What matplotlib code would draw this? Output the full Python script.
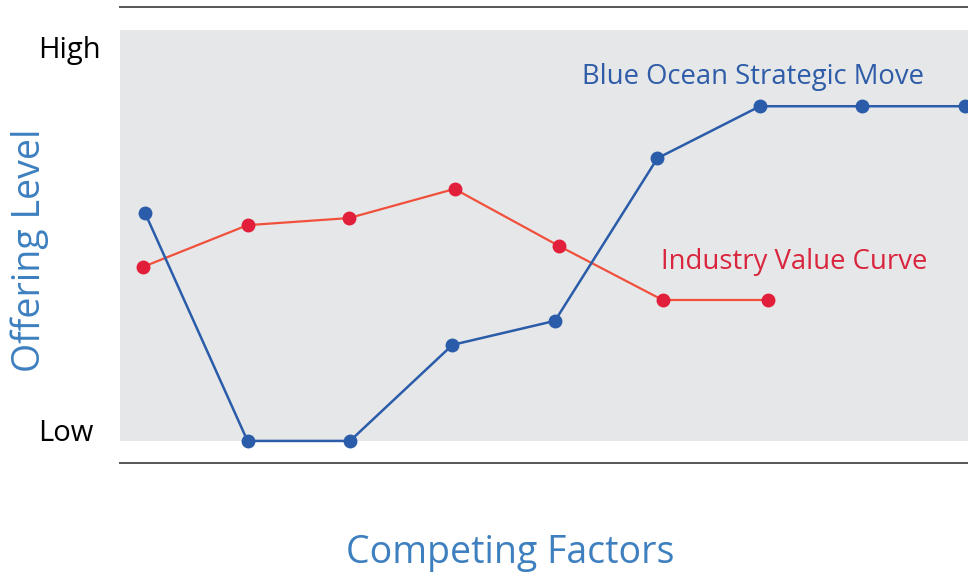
import matplotlib.pyplot as plt

# factor positions (index units) and offering levels (0 = Low, 10 = High)
blue_x = [0, 1, 2, 3, 4, 5, 6, 7, 8]
blue_y = [5.79, 0.0, 0.0, 2.44, 3.05, 7.18, 8.50, 8.50, 8.50]
red_x = [-0.02, 1.0, 1.99, 3.02, 4.04, 5.05, 6.08]
red_y = [4.42, 5.48, 5.66, 6.40, 4.95, 3.58, 3.58]

level_ticks = [0.28, 10.0]
level_labels = ['Low', 'High']

plt.rcParams['font.family'] = ['Open Sans', 'DejaVu Sans']

fig = plt.figure(figsize=(9.68, 5.75), dpi=100)
ax = fig.add_axes([0.124, 0.1948, 0.876, 0.793])
ax.set_xlim(-0.244, 8.03)
ax.set_ylim(-0.56, 11.02)

# gray panel
ax.axhspan(0, 10.43, color='#e6e7e8', zorder=0, lw=0)

ax.plot(red_x, red_y, color='#f0503c', lw=1.6, zorder=2)
ax.plot(red_x, red_y, 'o', color='#e21f3b', ms=9, zorder=3)
ax.plot(blue_x, blue_y, color='#2a5caa', lw=1.8, zorder=4, clip_on=False)
ax.plot(blue_x, blue_y, 'o', color='#2a5caa', ms=9, zorder=5, clip_on=False)

ax.text(5.93, 9.24, 'Blue Ocean Strategic Move', color='#2e5ca8', fontsize=19.8,
        ha='center', va='center')
ax.text(6.33, 4.54, 'Industry Value Curve', color='#d9263e', fontsize=19.8,
        ha='center', va='center')

for s in ['left', 'right']:
    ax.spines[s].set_visible(False)
for s in ['top', 'bottom']:
    ax.spines[s].set_color('#555555')
    ax.spines[s].set_linewidth(1.4)

ax.set_xticks([])
ax.set_yticks(level_ticks)
ax.set_yticklabels(level_labels, fontsize=21, ha='left')
ax.tick_params(axis='y', length=0, pad=59)

fig.text(0.031, 0.565, 'Offering Level', rotation=90, color='#3d7fbf',
         fontsize=27, ha='center', va='center')
fig.text(0.527, 0.038, 'Competing Factors', color='#3d7fbf', fontsize=27,
         ha='center', va='center')

fig.savefig('out.png', dpi=100)
